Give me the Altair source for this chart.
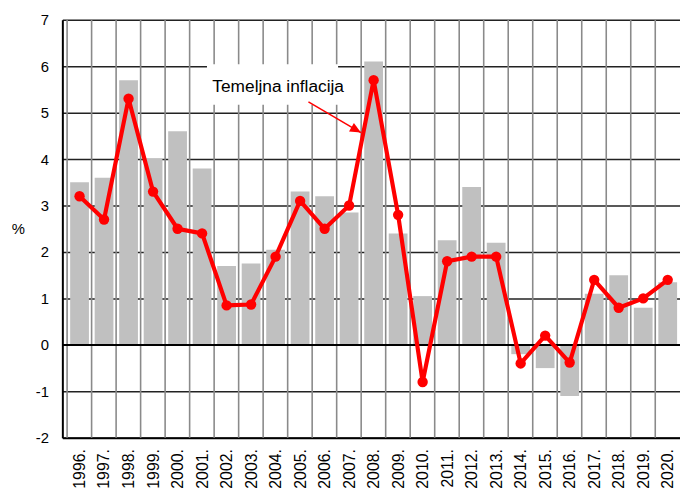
import altair as alt
import pandas as pd

years = list(range(1996, 2021))
bar_values = [3.5, 3.6, 5.7, 4.0, 4.6, 3.8, 1.7, 1.75, 2.05, 3.3, 3.2, 2.85, 6.1,
              2.4, 1.05, 2.25, 3.4, 2.2, -0.2, -0.5, -1.1, 1.1, 1.5, 0.8, 1.35]
core_values = [3.2, 2.7, 5.3, 3.3, 2.5, 2.4, 0.85, 0.87, 1.9, 3.1, 2.5, 3.0, 5.7,
               2.8, -0.8, 1.8, 1.9, 1.9, -0.4, 0.2, -0.38, 1.4, 0.8, 1.0, 1.4]
y_ticks = [-2, -1, 0, 1, 2, 3, 4, 5, 6, 7]
annotation_text = "Temeljna  inflacija"

FONT = "Liberation Sans"
RED = "#ff0000"

df = pd.DataFrame({"year": years, "bar": bar_values, "core": core_values})

xs = alt.Scale(domain=[1995.5, 2020.3], nice=False, zero=False)
ys = alt.Scale(domain=[-2, 7], nice=False)

x_axis = alt.Axis(values=years, labelExpr="datum.value + '.'", labelAngle=-90,
                  labelAlign="right", labelBaseline="middle", labelPadding=11,
                  labelFontSize=16, labelFont=FONT, labelColor="#000",
                  ticks=False, grid=False, domainColor="#000", domainWidth=2,
                  title=None, labelOverlap=False)
y_axis = alt.Axis(values=y_ticks, labelExpr="datum.value + ''",
                  labelFontSize=15, labelFont=FONT, labelColor="#000",
                  labelPadding=14, ticks=False, grid=True, gridColor="#222",
                  gridWidth=1.5, domainColor="#000", domainWidth=2,
                  title="%", titleAngle=0, titleFontSize=15, titleFont=FONT,
                  titleFontWeight="normal", titleX=-45, titleY=211,
                  titleAlign="center", titleBaseline="middle")


def X(field):
    return alt.X(field, scale=xs, axis=x_axis)


def Y(field):
    return alt.Y(field, scale=ys, axis=y_axis)


# vertical gridlines at the left boundary of each year's band
vgrid = alt.Chart(df).mark_rule(color="#8a8a8a", strokeWidth=1.6, xOffset=-12.6).encode(
    x=X("year:Q")
)

bars = alt.Chart(df).mark_bar(color="#c0c0c0", size=19).encode(
    x=X("year:Q"), y=Y("bar:Q")
)

zero = alt.Chart(df).mark_rule(color="#000", strokeWidth=1.5).encode(
    y=alt.datum(0, scale=ys, axis=y_axis)
)

line = alt.Chart(df).mark_line(color=RED, strokeWidth=4.2).encode(
    x=X("year:Q"), y=Y("core:Q")
)
pts = alt.Chart(df).mark_circle(color=RED, opacity=1, size=110).encode(
    x=X("year:Q"), y=Y("core:Q")
)

# annotation
box_x = [2001.2, 2006.55]
box_y = [5.17, 6.04]
text_pos = (2001.42, 5.56)
arrow_from = (2005.34, 5.23)
arrow_to = (2007.48, 4.57)

ann = pd.DataFrame({
    "bx": [box_x[0]], "bx2": [box_x[1]], "by": [box_y[0]], "by2": [box_y[1]],
    "tx": [text_pos[0]], "ty": [text_pos[1]],
    "ax": [arrow_from[0]], "ay": [arrow_from[1]],
    "ax2": [arrow_to[0]], "ay2": [arrow_to[1]],
    "label": [annotation_text],
})

box = alt.Chart(ann).mark_rect(color="white").encode(
    x=X("bx:Q"), x2="bx2:Q", y=Y("by:Q"), y2="by2:Q"
)
txt = alt.Chart(ann).mark_text(align="left", baseline="middle", font=FONT,
                               fontSize=17.5, color="#000").encode(
    x=X("tx:Q"), y=Y("ty:Q"), text="label:N"
)
arrow_line = alt.Chart(ann).mark_rule(color=RED, strokeWidth=1.5).encode(
    x=X("ax:Q"), y=Y("ay:Q"), x2="ax2:Q", y2="ay2:Q"
)
arrow_head = alt.Chart(ann).mark_point(
    shape="M0,0L-1,-0.45L-1,0.45Z", filled=True, color=RED, opacity=1,
    size=484, angle=30, strokeWidth=0
).encode(x=X("ax2:Q"), y=Y("ay2:Q"))

chart = alt.layer(vgrid, bars, zero, box, txt, arrow_line, arrow_head, line, pts).properties(
    width=625, height=423,
    autosize=alt.AutoSizeParams(type="none"),
    padding={"left": 55, "top": 9, "right": 0, "bottom": 53},
).configure_view(strokeWidth=0).configure_axisX(labelOverlap=False).configure(background="white")

chart.save("out.html", embed_options={"renderer": "svg", "actions": False})
